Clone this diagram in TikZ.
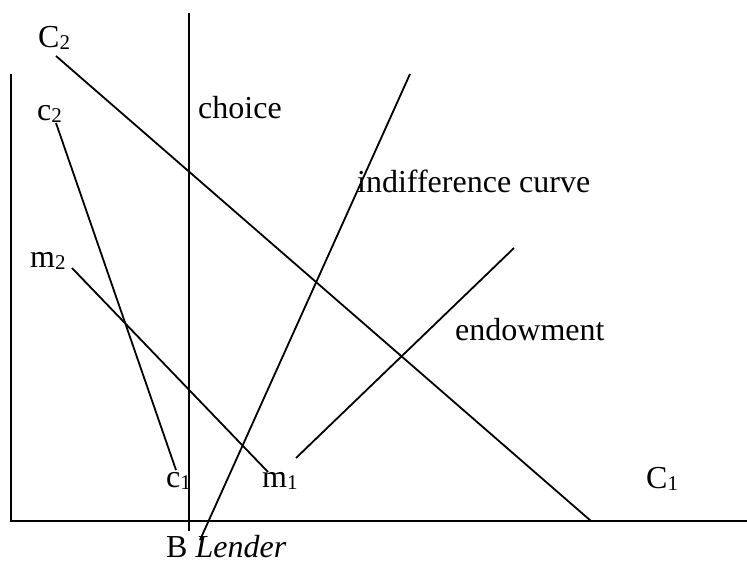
\documentclass[tikz,border=0pt]{standalone}
\usepackage{fontspec}
\setmainfont{Liberation Serif}
\newcommand\mysub[1]{\raisebox{-0.08em}{\fontsize{21}{21}\selectfont #1}}
\tikzset{
  lbl/.style={anchor=base west, inner sep=0pt, font=\fontsize{32}{37}\selectfont},
  ln/.style={line width=1.8pt, line cap=butt}
}
\begin{document}
\begin{tikzpicture}[x=1pt,y=-1pt]
\useasboundingbox (0,0) rectangle (747,563);
% axes
\coordinate (ytop) at (11,74);
\coordinate (orig) at (11,521);
\coordinate (xend) at (747,521);
\draw[ln] (ytop) -- (orig) -- (xend);
% choice vertical
\coordinate (vt) at (189,13);
\coordinate (vb) at (189,531);
\draw[ln] (vt) -- (vb);
% C2-C1 line
\coordinate (Ca) at (56,56);
\coordinate (Cb) at (591,521);
\draw[ln] (Ca) -- (Cb);
% c2-c1 line
\coordinate (ca) at (56,123);
\coordinate (cb) at (176,470);
\draw[ln] (ca) -- (cb);
% m2-m1 line
\coordinate (ma) at (72,268);
\coordinate (mb) at (268,472);
\draw[ln] (ma) -- (mb);
% indifference line
\coordinate (ia) at (410,74);
\coordinate (ib) at (200,540);
\draw[ln] (ia) -- (ib);
% endowment line
\coordinate (ea) at (296,458);
\coordinate (eb) at (514,248);
\draw[ln] (ea) -- (eb);
% labels
\node[lbl] (lC2) at (38,47) {C\mysub{2}};
\node[lbl] (lc2) at (37,120) {c\mysub{2}};
\node[lbl] (lchoice) at (198,118) {choice};
\node[lbl] (lind) at (357,192) {indifference curve};
\node[lbl] (lend) at (455,340) {endowment};
\node[lbl] (lm2) at (30,267) {m\mysub{2}};
\node[lbl] (lc1) at (166,487) {c\mysub{1}};
\node[lbl] (lm1) at (262,487) {m\mysub{1}};
\node[lbl] (lC1) at (646,488) {C\mysub{1}};
\node[lbl] (lB) at (166,557) {B \textit{Lender}};
\end{tikzpicture}
\end{document}
